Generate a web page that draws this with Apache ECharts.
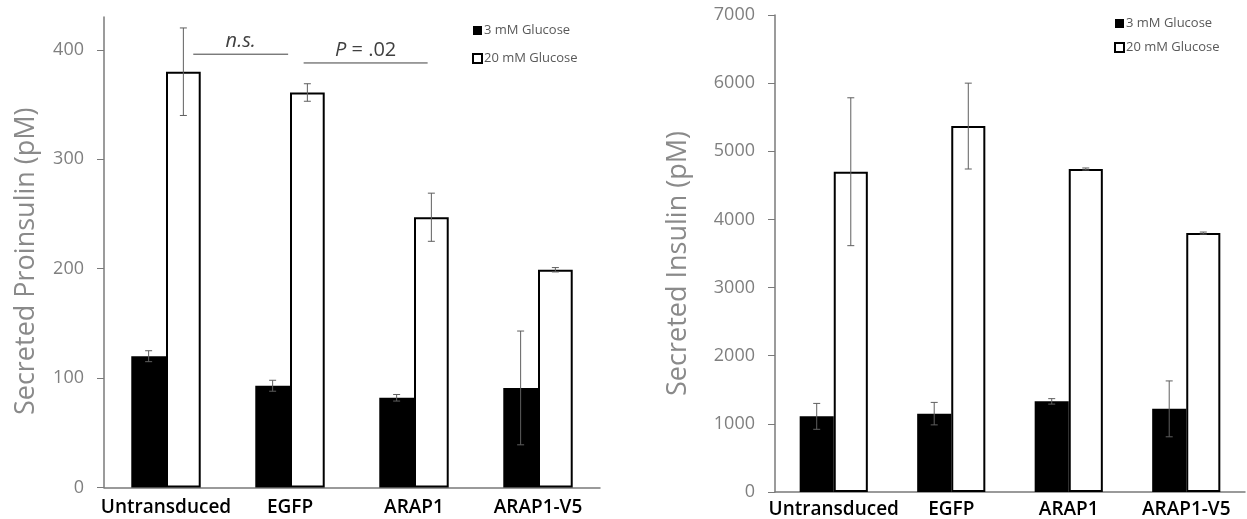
<!DOCTYPE html>
<html>
<head>
<meta charset="utf-8">
<script src="https://cdn.jsdelivr.net/npm/echarts@6/dist/echarts.min.js"></script>
<style>
  html, body { margin: 0; padding: 0; background: #fff; }
  #chart { width: 1247px; height: 519px; }
</style>
</head>
<body>
<div id="chart"></div>
<script>
// Groups on the x axis (shared by both panels)
const categories = ['Untransduced', 'EGFP', 'ARAP1', 'ARAP1-V5'];
const seriesNames = ['3 mM Glucose', '20 mM Glucose'];

// Secreted proinsulin (pM): means and error half-widths
const proinsulinLow = [120, 93, 82, 91];
const proinsulinLowErr = [5, 5, 3, 52];
const proinsulinHigh = [380, 361, 247, 199];
const proinsulinHighErr = [40, 8, 22, 2];

// Secreted insulin (pM): means and error half-widths
const insulinLow = [1110, 1150, 1330, 1220];
const insulinLowErr = [190, 165, 40, 410];
const insulinHigh = [4700, 5370, 4740, 3800];
const insulinHighErr = [1085, 630, 15, 15];

// Tick labels
const proinsulinTicks = [0, 100, 200, 300, 400];
const insulinTicks = [0, 1000, 2000, 3000, 4000, 5000, 6000, 7000];

// Significance brackets on the proinsulin panel
const brackets = [
  { from: 0, to: 1, value: 396, text: 'n.s.' },
  { from: 1, to: 2, value: 388, text: 'P = .02' }
];

const FONT = '"Open Sans", "Liberation Sans", sans-serif';
const TICK_COLOR = '#7f7f7f';
const AXIS_COLOR = '#7a7a7a';

function errData(means, errs, side) {
  return means.map((m, i) => [i, m - errs[i], m + errs[i], side]);
}

function makeErrRender(barFrac) {
  return function (params, api) {
    const i = api.value(0);
    const side = api.value(3);
    const band = api.size([1, 0])[0];
    const base = api.coord([i, api.value(1)]);
    const top = api.coord([i, api.value(2)]);
    const x = base[0] + side * band * barFrac / 2;
    const cap = 3.5;
    const style = { stroke: '#5f5f5f', lineWidth: 1 };
    return {
      type: 'group',
      children: [
        { type: 'line', shape: { x1: x, y1: base[1], x2: x, y2: top[1] }, style },
        { type: 'line', shape: { x1: x - cap, y1: base[1], x2: x + cap, y2: base[1] }, style },
        { type: 'line', shape: { x1: x - cap, y1: top[1], x2: x + cap, y2: top[1] }, style }
      ]
    };
  };
}

// Bracket line offsets within each category band
const bracketOffsets = [[0.22, -0.015], [0.11, 0.11]];

function renderBracket(params, api) {
  const idx = params.dataIndex;
  const b = brackets[idx];
  const band = api.size([1, 0])[0];
  const p0 = api.coord([b.from, b.value]);
  const p1 = api.coord([b.to, b.value]);
  const off = bracketOffsets[idx];
  const x0 = p0[0] + off[0] * band;
  const x1 = p1[0] + off[1] * band;
  const isP = b.text.startsWith('P');
  const textStyle = isP
    ? { text: '{i|P}{n|' + b.text.slice(1) + '}', rich: {
        i: { fontStyle: 'italic', fontSize: 20, fontFamily: FONT, fill: '#404040' },
        n: { fontSize: 20, fontFamily: FONT, fill: '#404040' } } }
    : { text: b.text, fontStyle: 'italic', fontSize: 20, fontFamily: FONT, fill: '#404040' };
  return {
    type: 'group',
    children: [
      { type: 'line', shape: { x1: x0, y1: p0[1], x2: x1, y2: p0[1] }, style: { stroke: '#404040', lineWidth: 1 } },
      { type: 'text', x: (x0 + x1) / 2, y: p0[1] - 3,
        style: Object.assign({ align: 'center', verticalAlign: 'bottom' }, textStyle) }
    ]
  };
}

function yAxis(gridIndex, max, interval, ticks, name, nameGap, shiftDown) {
  return {
    type: 'value', gridIndex, min: 0, max, interval,
    name, nameLocation: 'middle', nameGap, nameRotate: 90,
    nameTextStyle: { fontFamily: FONT, fontSize: 27, color: '#8a8a8a', padding: [0, shiftDown * 2, 0, 0] },
    axisLine: { show: true, lineStyle: { color: AXIS_COLOR, width: 1.5 } },
    axisTick: { show: true, length: 7, lineStyle: { color: AXIS_COLOR }, customValues: ticks },
    axisLabel: { fontFamily: FONT, fontSize: 18, color: TICK_COLOR, margin: 20, customValues: ticks,
      formatter: v => String(v) },
    splitLine: { show: false }
  };
}

function xAxis(gridIndex, margin) {
  return {
    type: 'category', gridIndex, data: categories,
    axisLine: { lineStyle: { color: AXIS_COLOR, width: 1.5 } },
    axisTick: { show: false },
    axisLabel: { fontFamily: FONT, fontSize: 19, fontWeight: 600, color: '#000', margin, interval: 0 }
  };
}

const whiteStyle = { color: '#fff', borderColor: '#000', borderWidth: 2 };
const blackStyle = { color: '#000' };

const legendText = { fontFamily: FONT, fontSize: 13, color: '#595959', padding: [0, 0, 0, -3] };

const option = {
  animation: false,
  backgroundColor: '#fff',
  grid: [
    { left: 104, top: 17, width: 496, height: 470.5 },
    { left: 775, top: 15, width: 470, height: 477 }
  ],
  legend: [
    { left: 467, top: 19, orient: 'vertical', icon: 'rect', itemWidth: 9, itemHeight: 9, itemGap: 15,
      data: seriesNames, textStyle: legendText },
    { left: 1109, top: 12, orient: 'vertical', icon: 'rect', itemWidth: 9, itemHeight: 9, itemGap: 11,
      data: seriesNames, textStyle: legendText }
  ],
  xAxis: [xAxis(0, 11), xAxis(1, 8)],
  yAxis: [
    yAxis(0, 430, 100, proinsulinTicks, 'Secreted Proinsulin (pM)', 64, 9),
    yAxis(1, 7000, 1000, insulinTicks, 'Secreted Insulin (pM)', 83, 10)
  ],
  series: [
    { name: seriesNames[0], type: 'bar', xAxisIndex: 0, yAxisIndex: 0, data: proinsulinLow,
      barWidth: '28%', barGap: '0%', itemStyle: blackStyle },
    { name: seriesNames[1], type: 'bar', xAxisIndex: 0, yAxisIndex: 0, data: proinsulinHigh,
      barWidth: '28%', barGap: '0%', itemStyle: whiteStyle },
    { name: seriesNames[0], type: 'bar', xAxisIndex: 1, yAxisIndex: 1, data: insulinLow,
      barWidth: '29%', barGap: '0%', itemStyle: blackStyle },
    { name: seriesNames[1], type: 'bar', xAxisIndex: 1, yAxisIndex: 1, data: insulinHigh,
      barWidth: '29%', barGap: '0%', itemStyle: whiteStyle },
    { type: 'custom', xAxisIndex: 0, yAxisIndex: 0, z: 5, renderItem: makeErrRender(0.28),
      data: errData(proinsulinLow, proinsulinLowErr, -1).concat(errData(proinsulinHigh, proinsulinHighErr, 1)) },
    { type: 'custom', xAxisIndex: 1, yAxisIndex: 1, z: 5, renderItem: makeErrRender(0.29),
      data: errData(insulinLow, insulinLowErr, -1).concat(errData(insulinHigh, insulinHighErr, 1)) },
    { type: 'custom', xAxisIndex: 0, yAxisIndex: 0, z: 6, renderItem: renderBracket,
      data: brackets.map(b => [b.from, b.to, b.value]) }
  ]
};

echarts.init(document.getElementById('chart')).setOption(option);
</script>
</body>
</html>
